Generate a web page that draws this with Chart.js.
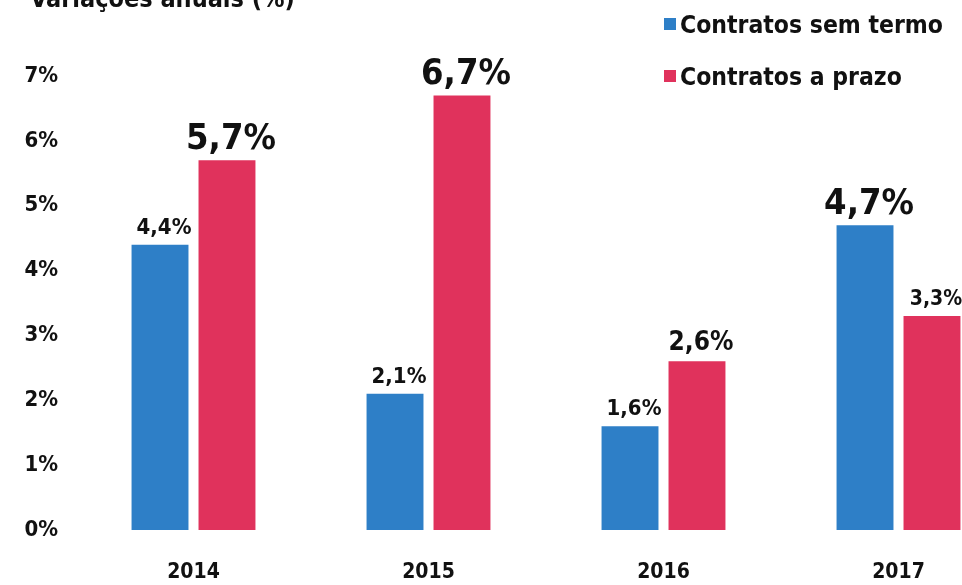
<!DOCTYPE html>
<html><head><meta charset="utf-8">
<script src="https://cdn.jsdelivr.net/npm/chart.js@4/dist/chart.umd.min.js"></script>
<style>
html,body{margin:0;padding:0;background:#fff;overflow:hidden;width:962px;height:585px;}
#wrap{position:relative;width:1016px;height:585px;}
canvas{position:absolute;left:0;top:0;}
.t{position:absolute;font-family:"DejaVu Sans Condensed","DejaVu Sans",sans-serif;font-weight:bold;color:#111;white-space:nowrap;}
.sw{position:absolute;width:12px;height:12px;}
</style></head>
<body><div id="wrap">
<canvas id="c" width="1016" height="585"></canvas>
<div class="t" style="left:30px;top:-16px;font-size:25px;">Variações anuais (%)</div>
<div class="sw" style="left:664px;top:18px;background:#2e7fc7"></div>
<div class="t" style="left:680px;top:10px;font-size:24.5px;">Contratos sem termo</div>
<div class="sw" style="left:664px;top:70px;background:#e0325c"></div>
<div class="t" style="left:680px;top:62px;font-size:24.5px;">Contratos a prazo</div>
</div>
<script>
const years = ["2014","2015","2016","2017"];
const semTermo = [4.4, 2.1, 1.6, 4.7];
const aPrazo = [5.7, 6.7, 2.6, 3.3];
const yTicks = [0,1,2,3,4,5,6,7];
const seriesNames = ["Contratos sem termo","Contratos a prazo"];
// label font sizes (styling only)
const labelSizes = [[22,22,22,36],[36,36,26,21]];

const FONT = "'DejaVu Sans Condensed','DejaVu Sans',sans-serif";
const fmt = v => v.toFixed(1).replace('.', ',') + '%';

const labelPlugin = {
  id:'labels',
  afterDatasetsDraw(chart){
    const ctx = chart.ctx;
    chart.data.datasets.forEach((ds, di) => {
      chart.getDatasetMeta(di).data.forEach((bar, i) => {
        ctx.save();
        ctx.font = `bold ${labelSizes[di][i]}px ${FONT}`;
        ctx.fillStyle = '#111';
        ctx.textAlign = 'center';
        ctx.textBaseline = 'alphabetic';
        ctx.fillText(fmt(ds.data[i]), bar.x + 4, bar.y - 11);
        ctx.restore();
      });
    });
  }
};

new Chart(document.getElementById('c'), {
  type:'bar',
  data:{
    labels: years,
    datasets:[
      {label:seriesNames[0], data:semTermo, backgroundColor:'#2e7fc7', categoryPercentage:0.57, barPercentage:0.85},
      {label:seriesNames[1], data:aPrazo, backgroundColor:'#e0325c', categoryPercentage:0.57, barPercentage:0.85}
    ]
  },
  options:{
    responsive:false,
    animation:false,
    layout:{padding:{top:76,left:0,right:0,bottom:0}},
    plugins:{legend:{display:false}, tooltip:{enabled:false}},
    scales:{
      x:{
        grid:{display:false, drawTicks:false},
        border:{display:false},
        ticks:{color:'#111', font:{family:FONT, size:21, weight:'bold'}, padding:30},
        afterFit(s){ s.height = 55; }
      },
      y:{
        min:0, max:7,
        grid:{display:false, drawTicks:false},
        border:{display:false},
        afterBuildTicks(s){ s.ticks = yTicks.map(v=>({value:v})); },
        ticks:{color:'#111', font:{family:FONT, size:22, weight:'bold'}, padding:18, callback:v=>v+'%'},
        afterFit(s){ s.width = 76; }
      }
    }
  },
  plugins:[labelPlugin]
});
</script></body></html>
